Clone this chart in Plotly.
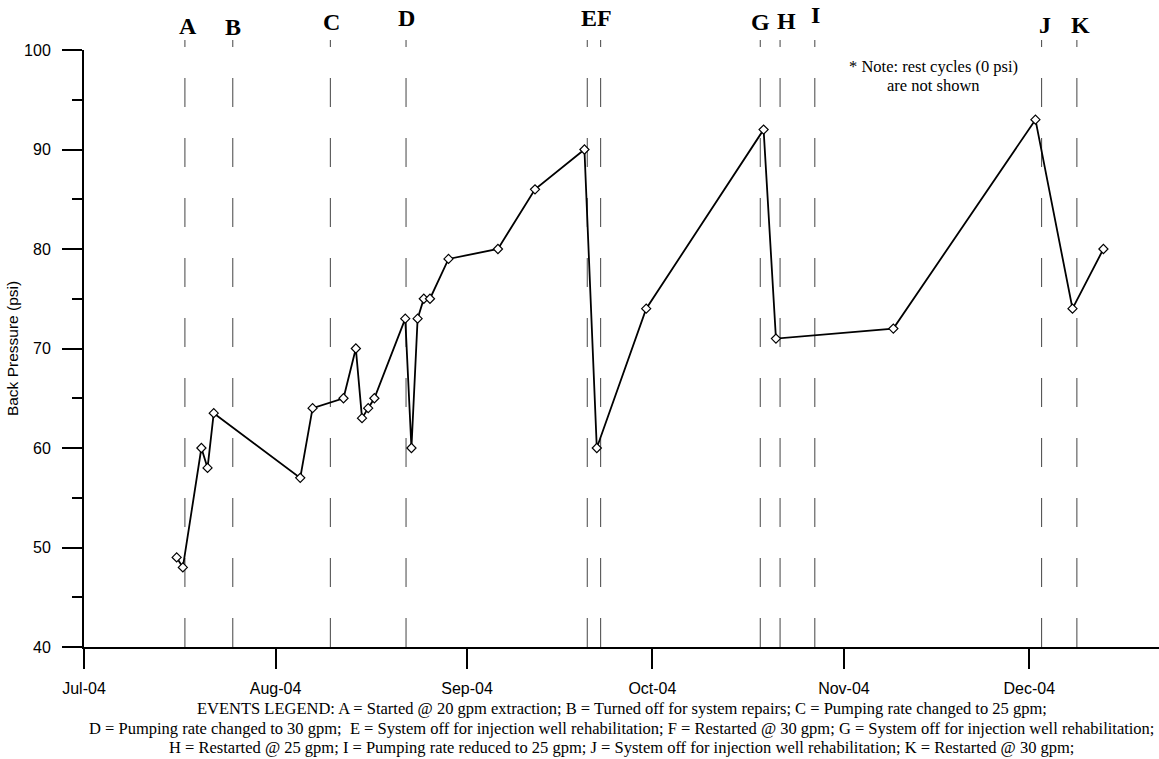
import plotly.graph_objects as go

# ---- data ----
dates = ["2004-07-16", "2004-07-17", "2004-07-20", "2004-07-21", "2004-07-22",
         "2004-08-05", "2004-08-07", "2004-08-12", "2004-08-14", "2004-08-15",
         "2004-08-16", "2004-08-17", "2004-08-22", "2004-08-23", "2004-08-24",
         "2004-08-25", "2004-08-26", "2004-08-29", "2004-09-06", "2004-09-12",
         "2004-09-20", "2004-09-22", "2004-09-30", "2004-10-19", "2004-10-21",
         "2004-11-09", "2004-12-02", "2004-12-08", "2004-12-13"]
pressure = [49, 48, 60, 58, 63.5,
            57, 64, 65, 70, 63,
            64, 65, 73, 60, 73,
            75, 75, 79, 80, 86,
            90, 60, 74, 92, 71,
            72, 93, 74, 80]

event_labels = ["A", "B", "C", "D", "E", "F", "G", "H", "I", "J", "K"]
event_dates = ["2004-07-17 08:00", "2004-07-25 02:00", "2004-08-09 21:00",
               "2004-08-22 03:00", "2004-09-20 11:00", "2004-09-22 15:00",
               "2004-10-18 11:00", "2004-10-21 16:00", "2004-10-27 07:00",
               "2004-12-03 00:00", "2004-12-08 17:00"]

x_tick_vals = ["2004-07-01", "2004-08-01", "2004-09-01", "2004-10-01",
               "2004-11-01", "2004-12-01"]
x_tick_text = ["Jul-04", "Aug-04", "Sep-04", "Oct-04", "Nov-04", "Dec-04"]
y_tick_vals = [40, 50, 60, 70, 80, 90, 100]

legend_lines = [
    "EVENTS LEGEND: A = Started @ 20 gpm extraction; B = Turned off for system repairs; C = Pumping rate changed to 25 gpm;",
    "D = Pumping rate changed to 30 gpm;\u00a0 E = System off for injection well rehabilitation; F = Restarted @ 30 gpm; G = System off for injection well rehabilitation;",
    "H = Restarted @ 25 gpm; I = Pumping rate reduced to 25 gpm; J = System off for injection well rehabilitation; K = Restarted @ 30 gpm;",
]
note_lines = ["* Note: rest cycles (0 psi)", "are not shown"]

# ---- layout helpers (pixel geometry) ----
W, H = 1159, 759
ML, MR, MT, MB = 84, 0, 50, 112
PH = H - MT - MB


def py(ypix):
    return (H - MB - ypix) / PH


label_ypix = [26, 26.7, 21.7, 17.7, 17.7, 17.7, 21.7, 21, 15, 25, 25]
label_xshift = [3, 0, 1, 0, 2, 4, 0, 6, 1, 3, 4]

serif = "Liberation Serif, Times New Roman, serif"
sans = "Liberation Sans, Arial, sans-serif"

fig = go.Figure()
fig.add_trace(go.Scatter(
    x=dates, y=pressure, mode="lines+markers",
    line=dict(color="black", width=1.8),
    marker=dict(symbol="diamond", size=7, color="white",
                line=dict(color="black", width=1.2)),
    showlegend=False, hoverinfo="x+y",
))

shapes = []
annotations = []
for lab, d, yp, xs in zip(event_labels, event_dates, label_ypix, label_xshift):
    shapes.append(dict(type="line", xref="x", yref="paper", x0=d, x1=d,
                       y0=0, y1=py(40), layer="below",
                       line=dict(color="#444444", width=1, dash="29px,31px")))
    annotations.append(dict(text="<b>%s</b>" % lab, x=d, xref="x", y=py(yp),
                            yref="paper", xanchor="center", yanchor="middle",
                            xshift=xs, showarrow=False,
                            font=dict(family=serif, size=24, color="black")))

for txt, yp in zip(note_lines, [66, 85]):
    annotations.append(dict(text=txt, x=(933 - ML) / (W - ML - MR), xref="paper",
                            y=py(yp), yref="paper", xanchor="center",
                            yanchor="middle", showarrow=False,
                            font=dict(family=serif, size=16.5, color="black")))

for txt, yp in zip(legend_lines, [708, 728, 747]):
    annotations.append(dict(text=txt, x=0.5, xref="paper", y=py(yp),
                            yref="paper", xanchor="center", yanchor="middle",
                            showarrow=False,
                            font=dict(family=serif, size=16.5, color="black")))

fig.update_layout(
    width=W, height=H,
    margin=dict(l=ML, r=MR, t=MT, b=MB, pad=0),
    paper_bgcolor="white", plot_bgcolor="white",
    shapes=shapes, annotations=annotations,
    xaxis=dict(
        type="date", range=["2004-07-01", "2004-12-22"],
        tickmode="array", tickvals=x_tick_vals, ticktext=x_tick_text,
        ticks="outside", ticklen=20, tickwidth=2, tickcolor="black",
        showline=True, linewidth=2, linecolor="black",
        showgrid=False, zeroline=False, ticklabelstandoff=6,
        tickfont=dict(family=sans, size=16, color="black"),
    ),
    yaxis=dict(
        range=[40, 100], tickmode="array", tickvals=y_tick_vals,
        ticks="outside", ticklen=20, tickwidth=2, tickcolor="black",
        showline=True, linewidth=2, linecolor="black",
        showgrid=False, zeroline=False, ticklabelstandoff=8,
        minor=dict(dtick=5, ticks="outside", ticklen=10, tickwidth=2,
                   tickcolor="black", showgrid=False),
        tickfont=dict(family=sans, size=16, color="black"),
        title=dict(text="Back Pressure (psi)", standoff=2,
                   font=dict(family=sans, size=15.5, color="black")),
    ),
)

fig.write_html("out.html", config={"displayModeBar": False},
               post_script="document.body.style.margin='0';"
                           "document.body.style.overflow='hidden';")
